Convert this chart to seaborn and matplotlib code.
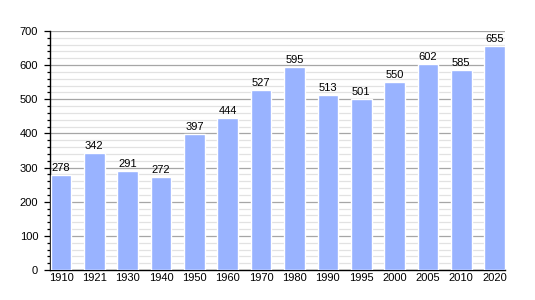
import matplotlib
matplotlib.use("Agg")
import matplotlib.pyplot as plt
import seaborn as sns
import pandas as pd
from matplotlib.ticker import MultipleLocator

years = ["1910", "1921", "1930", "1940", "1950", "1960", "1970", "1980", "1990", "1995", "2000", "2005", "2010", "2020"]
population = [278, 342, 291, 272, 397, 444, 527, 595, 513, 501, 550, 602, 585, 655]

sns.set_style("white")
plt.rcParams['font.family'] = ['Liberation Sans', 'DejaVu Sans']

df = pd.DataFrame({"year": years, "pop": population})

fig = plt.figure(figsize=(5.35, 3.0), dpi=100)
ax = fig.add_axes([50/535, 30/300, 455/535, 239/300])

sns.barplot(data=df, x="year", y="pop", color="#99b3ff", saturation=1, width=0.62, ax=ax, zorder=3)

ax.set_ylim(0, 700)
ax.set_xlim(-0.33, 13.31)
ax.yaxis.set_major_locator(MultipleLocator(100))
ax.yaxis.set_minor_locator(MultipleLocator(20))
ax.grid(which="major", axis="y", color="#a6a6a6", linewidth=0.9, zorder=1)
ax.grid(which="minor", axis="y", color="#e2e2e2", linewidth=0.9, zorder=0)
ax.set_axisbelow(True)

for s in ["top", "right"]:
    ax.spines[s].set_visible(False)
for s in ["left", "bottom"]:
    ax.spines[s].set_color("black")
    ax.spines[s].set_linewidth(1.0)

ax.tick_params(axis="y", which="major", left=True, length=4, width=0.9, color="black",
               labelsize=8, labelcolor="black", pad=4.5)
ax.tick_params(axis="y", which="minor", left=True, length=2, width=0.9, color="black")
ax.tick_params(axis="x", length=0, labelsize=8, labelcolor="black", pad=2)
ax.set_xlabel("")
ax.set_ylabel("")

for i, v in enumerate(population):
    ax.text(i, v + 6, str(v), ha="center", va="bottom", fontsize=8, color="black")

fig.savefig("out.png", dpi=100)
